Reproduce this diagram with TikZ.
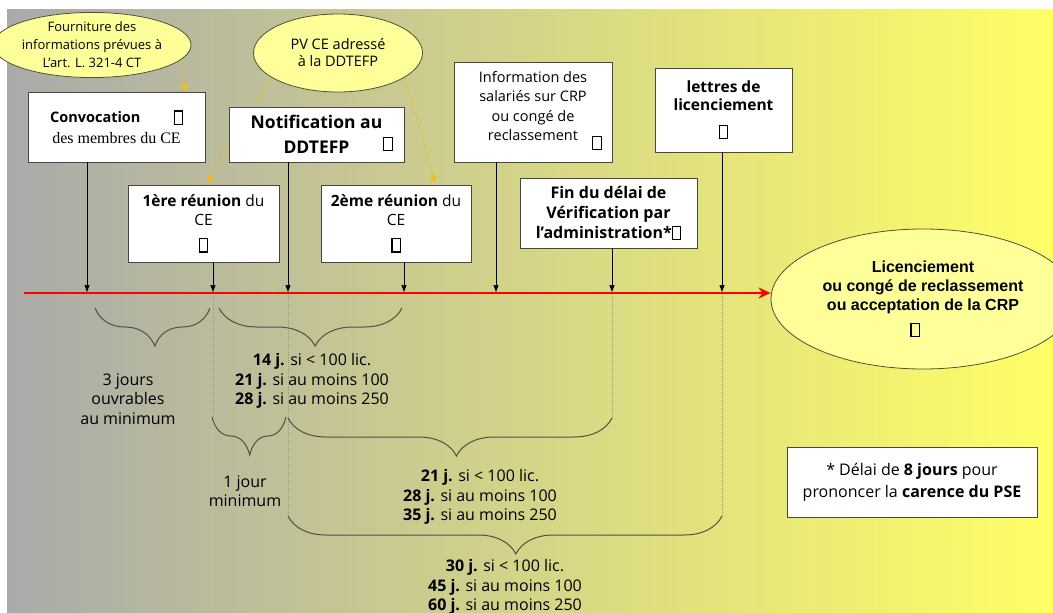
\documentclass[tikz,border=0pt]{standalone}
\usepackage{fontspec}
\setmainfont{Open Sans}
\newfontfamily\arialf{Liberation Sans}
\newfontfamily\timesf{Liberation Serif}
\usetikzlibrary{shapes.geometric,arrows.meta,decorations.pathreplacing}

\definecolor{bgleft}{RGB}{170,170,170}
\definecolor{bgmid}{RGB}{228,228,150}
\definecolor{bgright}{RGB}{255,255,102}
\definecolor{ellfill}{RGB}{255,255,153}
\definecolor{ellline}{RGB}{80,80,60}
\definecolor{boxline}{RGB}{70,70,70}
\definecolor{dashgold}{RGB}{242,192,20}
\definecolor{bracecol}{RGB}{80,80,70}
\definecolor{dotcol}{RGB}{150,150,140}

% empty symbol box used as a check mark placeholder
\newcommand{\gbx}{\raisebox{-1pt}{\setlength{\fboxsep}{0pt}\setlength{\fboxrule}{1.2pt}\fbox{\rule{0pt}{12pt}\hspace{7pt}}}}

\pgfdeclarelayer{backlayer}
\pgfsetlayers{backlayer,main}

\begin{document}
\begin{tikzpicture}[x=1pt,y=-1pt,
  ellnode/.style={ellipse, draw=ellline, fill=ellfill, line width=0.8pt, inner sep=0pt, align=center},
  evbox/.style={rectangle, draw=boxline, fill=white, line width=0.8pt, inner sep=0pt, align=center},
  gsym/.style={rectangle, draw=black, fill=white, line width=1.2pt, minimum width=9pt, minimum height=13pt, inner sep=0pt},
  dasharr/.style={draw=dashgold, line width=1pt, dash pattern=on 4pt off 3pt, -{Triangle[length=7pt,width=7pt]}},
  tickarr/.style={draw=black, line width=0.7pt, -{Triangle[length=7pt,width=5pt]}},
  dotline/.style={draw=dotcol, line width=0.5pt, dash pattern=on 1pt off 1pt},
  braceline/.style={draw=bracecol, line width=1pt, decorate, decoration={brace, mirror, amplitude=38pt, aspect=#1}},
  timeline/.style={draw=red, line width=2pt, -{Stealth[length=12pt,width=11pt]}},
  lbl/.style={align=center, inner sep=0pt, font=\fontsize{16}{19.5}\selectfont}
]
\useasboundingbox (0,0) rectangle (1053,613);
\clip (0,0) rectangle (1053,613);

\begin{pgfonlayer}{backlayer}
  \shade[left color=bgleft, middle color=bgmid, right color=bgright] (7,9) rectangle (1053,613);
\end{pgfonlayer}

% ---- upper ellipses
\node[ellnode, minimum width=168pt, minimum height=62pt, font=\fontsize{13}{18}\selectfont] (ell1) at (92,45)
  {Fourniture des\\informations prévues à\\L’art. L. 321-4 CT};
\node[ellnode, minimum width=169pt, minimum height=78pt, font=\fontsize{14.5}{17}\selectfont] (ell2) at (338,53)
  {PV CE adressé\\à la DDTEFP};

% ---- event boxes
\node[evbox, minimum width=177pt, minimum height=70pt, font=\fontsize{14.5}{21}\selectfont] (conv) at (116.5,127)
  {\textbf{Convocation}\hspace{33pt}\gbx\\{\timesf\fontsize{16}{18}\selectfont des membres du CE}};
\node[evbox, minimum width=175pt, minimum height=55pt, font=\fontsize{17.5}{25}\selectfont\bfseries] (notif) at (316.5,134.5)
  {Notification au\\DDTEFP};
\node[gsym] (gnotif) at (388,144) {};
\node[evbox, minimum width=158pt, minimum height=100pt, font=\fontsize{14.5}{19.5}\selectfont] (info) at (533,112)
  {Information des\\salariés sur CRP\\ou congé de\\reclassement\\[-7.5pt]\mbox{}};
\node[gsym] (ginfo) at (597,143) {};
\node[evbox, minimum width=137pt, minimum height=84pt, font=\fontsize{15.5}{18}\selectfont\bfseries] (lett) at (723.5,110)
  {lettres de\\licenciement\\[8pt]\gbx};
\node[evbox, minimum width=151pt, minimum height=77pt, font=\fontsize{15.5}{19}\selectfont] (re1) at (203.5,223.5)
  {\textbf{1ère réunion} du\\CE\\[6pt]\gbx};
\node[evbox, minimum width=150pt, minimum height=77pt, font=\fontsize{15.5}{19}\selectfont] (re2) at (396,223.5)
  {\textbf{2ème réunion} du\\CE\\[6pt]\gbx};
\node[evbox, minimum width=177pt, minimum height=70pt, font=\fontsize{16}{20}\selectfont\bfseries] (fin) at (608.5,213)
  {Fin du délai de\\Vérification par\\l’administration*\gbx};

% ---- final outcome
\node[ellnode, minimum width=304pt, minimum height=140pt, font=\arialf\fontsize{16}{19}\selectfont\bfseries] (lic) at (923,299)
  {Licenciement\\ou congé de reclassement\\ou acceptation de la CRP\\[6pt]\hspace*{-16pt}\gbx};

% ---- footnote box
\node[evbox, minimum width=250pt, minimum height=70pt, font=\fontsize{16}{22}\selectfont] (delai) at (912,482)
  {* Délai de \textbf{8 jours} pour\\prononcer la \textbf{carence du PSE}};

% ---- dashed links from the ellipses
\begin{pgfonlayer}{backlayer}
  \draw[dasharr] (ell1.-10) -- ([xshift=-20pt]conv.north east);
  \draw[dasharr] (ell2.-160) -- ([xshift=4pt,yshift=2pt]re1.north);
  \draw[dasharr] (ell2.-20) -- ([xshift=39pt,yshift=2pt]re2.north);
\end{pgfonlayer}

% ---- time line
\coordinate (t0) at (24,293);
\coordinate (tA) at (87,292);
\coordinate (tB) at (213,292);
\coordinate (tC) at (288,292);
\coordinate (tD) at (404,292);
\coordinate (tE) at (496,292);
\coordinate (tF) at (612,292);
\coordinate (tG) at (722,292);

% dotted guides below the line
\draw[dotline] (tB) -- (213,417);
\draw[dotline] (tC) -- (288,515);
\draw[dotline] (tF) -- (612,420);
\draw[dotline] (tG) -- (722,517);

\draw[timeline] (t0) -- (t0 -| lic.west);

\draw[tickarr] (conv.south -| tA) -- (tA);
\draw[tickarr] (re1.south -| tB) -- (tB);
\draw[tickarr] (notif.south -| tC) -- (tC);
\draw[tickarr] (re2.south -| tD) -- (tD);
\draw[tickarr] (info.south -| tE) -- (tE);
\draw[tickarr] (fin.south -| tF) -- (tF);
\draw[tickarr] (lett.south -| tG) -- (tG);

% ---- braces and durations
\draw[braceline=0.52] (95,308) -- (210,308);
\draw[braceline=0.525] (219,308) -- (402,308);
\draw[braceline=0.51] (212,417) -- (286,417);
\draw[braceline=0.52] (288,418) -- (612,418);
\draw[braceline=0.525] (288,516) -- (722,516);

\node[lbl] (l3j) at (128,399) {3 jours\\ouvrables\\au minimum};
\node[lbl] (l14) at (312,381) {\textbf{14 j.} si < 100 lic.\\\textbf{21 j.} si au moins 100\\\textbf{28 j.} si au moins 250};
\node[lbl] (l1j) at (245,491) {1 jour\\minimum};
\node[lbl] (l21) at (480,497) {\textbf{21 j.} si < 100 lic.\\\textbf{28 j.} si au moins 100\\\textbf{35 j.} si au moins 250};
\node[lbl] (l30) at (505,587) {\textbf{30 j.} si < 100 lic.\\\textbf{45 j.} si au moins 100\\\textbf{60 j.} si au moins 250};
\end{tikzpicture}
\end{document}
